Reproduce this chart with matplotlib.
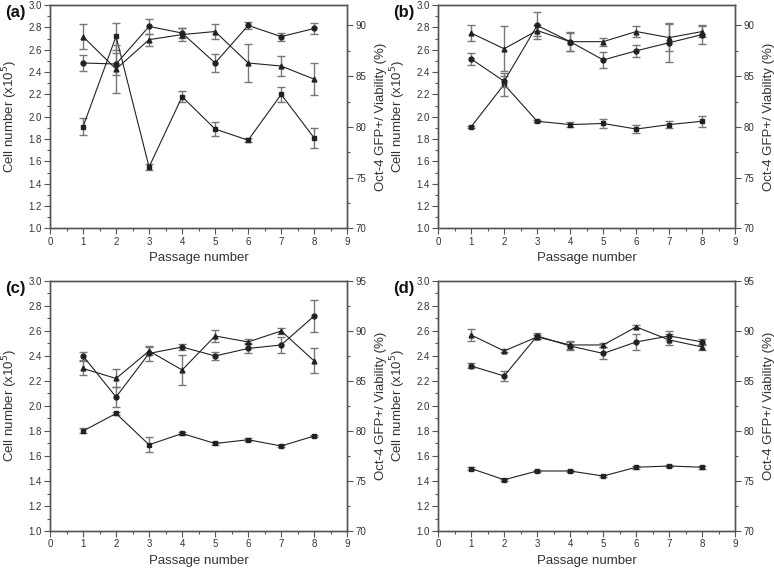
import matplotlib
matplotlib.use("Agg")
import matplotlib.pyplot as plt
from matplotlib.ticker import MultipleLocator

plt.rcParams['font.family'] = ['Liberation Sans', 'DejaVu Sans']

passage = [1, 2, 3, 4, 5, 6, 7, 8]

# cell number (x10^5), left axis
cells_a = [1.91, 2.72, 1.55, 2.18, 1.89, 1.79, 2.20, 1.81]
cells_a_err = [0.075, 0.12, 0.03, 0.05, 0.065, 0.02, 0.07, 0.09]
cells_b = [1.91, 2.29, 1.96, 1.93, 1.94, 1.89, 1.93, 1.96]
cells_b_err = [0.01, 0.1, 0.01, 0.025, 0.04, 0.035, 0.035, 0.05]
cells_c = [1.80, 1.94, 1.69, 1.78, 1.70, 1.73, 1.68, 1.76]
cells_c_err = [0.02, 0.01, 0.06, 0.015, 0.01, 0.01, 0.01, 0.01]
cells_d = [1.50, 1.41, 1.48, 1.48, 1.44, 1.51, 1.52, 1.51]
cells_d_err = [0.01, 0.01, 0.01, 0.01, 0.01, 0.01, 0.01, 0.01]

# Oct-4 GFP+ (%), right axis
gfp_a = [86.3, 86.2, 89.9, 89.25, 86.3, 90.0, 88.9, 89.7]
gfp_a_err = [0.8, 1.1, 0.7, 0.45, 0.85, 0.35, 0.4, 0.55]
gfp_b = [86.7, 84.5, 90.0, 88.4, 86.6, 87.5, 88.3, 89.1]
gfp_b_err = [0.6, 0.55, 1.3, 0.95, 0.75, 0.6, 1.9, 0.9]
gfp_c = [87.5, 83.4, 87.75, 88.4, 87.5, 88.25, 88.6, 91.5]
gfp_c_err = [0.4, 1.0, 0.75, 0.3, 0.4, 0.5, 0.8, 1.6]
gfp_d = [86.5, 85.5, 89.5, 88.5, 87.75, 88.9, 89.5, 88.9]
gfp_d_err = [0.25, 0.5, 0.3, 0.4, 0.6, 0.8, 0.45, 0.3]

# viability (%), right axis
via_a = [88.9, 85.7, 88.6, 89.1, 89.4, 86.3, 86.0, 84.7]
via_a_err = [1.2, 2.4, 0.6, 0.65, 0.7, 1.9, 0.95, 1.55]
via_b = [89.25, 87.7, 89.5, 88.4, 88.4, 89.4, 88.8, 89.4]
via_b_err = [0.8, 2.2, 0.55, 0.9, 0.4, 0.5, 1.3, 0.55]
via_c = [86.25, 85.25, 88.0, 86.1, 89.5, 88.9, 90.0, 87.0]
via_c_err = [0.7, 0.9, 0.4, 1.5, 0.6, 0.25, 0.3, 1.25]
via_d = [89.6, 88.0, 89.4, 88.6, 88.6, 90.4, 89.1, 88.4]
via_d_err = [0.6, 0.15, 0.2, 0.4, 0.2, 0.15, 0.55, 0.3]

panels = [
    ("(a)", [0.0646, 0.600, 0.384, 0.391], 92, cells_a, cells_a_err, gfp_a, gfp_a_err, via_a, via_a_err),
    ("(b)", [0.566, 0.600, 0.384, 0.391], 92, cells_b, cells_b_err, gfp_b, gfp_b_err, via_b, via_b_err),
    ("(c)", [0.0646, 0.070, 0.384, 0.438], 95, cells_c, cells_c_err, gfp_c, gfp_c_err, via_c, via_c_err),
    ("(d)", [0.566, 0.070, 0.384, 0.438], 95, cells_d, cells_d_err, gfp_d, gfp_d_err, via_d, via_d_err),
]

spine_col = '#555555'
txt_col = '#333333'
err_col = '#777777'

fig = plt.figure(figsize=(7.74, 5.71), dpi=100)

for label, pos, rtop, cells, cells_err, gfp, gfp_err, via, via_err in panels:
    ax = fig.add_axes(pos)
    ax2 = ax.twinx()

    kw = dict(color='#222222', ecolor=err_col, elinewidth=1.0, capsize=3,
              capthick=1.0, lw=0.8, markersize=3.5)
    ax.errorbar(passage, cells, yerr=cells_err, marker='s', **kw)
    ax2.errorbar(passage, gfp, yerr=gfp_err, marker='o', **kw)
    ax2.errorbar(passage, via, yerr=via_err, marker='^', **kw)

    ax.set_xlim(0, 9)
    ax.set_ylim(1.0, 3.0)
    ax2.set_ylim(70, rtop)
    ax.xaxis.set_major_locator(MultipleLocator(1))
    ax.xaxis.set_minor_locator(MultipleLocator(0.5))
    ax.yaxis.set_major_locator(MultipleLocator(0.2))
    ax.yaxis.set_minor_locator(MultipleLocator(0.1))
    ax2.yaxis.set_major_locator(MultipleLocator(5))
    ax2.yaxis.set_minor_locator(MultipleLocator(2.5))

    for a in (ax, ax2):
        for s in a.spines.values():
            s.set_color(spine_col)
            s.set_linewidth(1.0)
        a.tick_params(which='major', length=4, width=0.8, color=spine_col,
                      labelsize=7, labelcolor=txt_col, pad=2)
        a.tick_params(which='minor', length=2.5, width=0.8, color=spine_col)

    ax.set_xlabel("Passage number", fontsize=9.5, color=txt_col, labelpad=4)
    ax.set_ylabel("Cell number (x10$^5$)", fontsize=9.5, color=txt_col, labelpad=6)
    ax2.set_ylabel("Oct-4 GFP+/ Viability (%)", fontsize=9.5, color=txt_col, labelpad=6)

    fx = pos[0] - 0.058
    fy = pos[1] + pos[3] + 0.0
    fig.text(fx, fy, label, fontsize=12, fontweight='bold', color='#111111',
             ha='left', va='top')

fig.savefig("out.png", dpi=100)
